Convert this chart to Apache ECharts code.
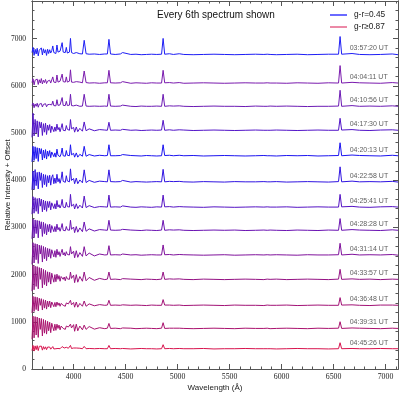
<!DOCTYPE html>
<html><head><meta charset="utf-8">
<script src="https://cdn.jsdelivr.net/npm/echarts@6/dist/echarts.min.js"></script>
<style>html,body{margin:0;padding:0;background:#fff}#c{width:400px;height:394px}</style>
</head><body><div id="c"></div>
<script>
// Wavelength grid (Å)
const wavelength = [3600,3610,3620,3630,3640,3650,3660,3670,3680,3690,3700,3710,3720,3730,3740,3750,3760,3770,3780,3790,
3800,3810,3820,3830,3840,3850,3860,3870,3880,3890,3900,3910,3920,3930,3940,3950,3960,3970,3980,3990,
4000,4010,4026,4040,4060,4085,4102,4120,4150,4200,4250,4300,4325,4340,4355,4400,4450,4471,4490,4550,
4600,4650,4700,4750,4800,4846,4861,4876,4922,4960,5016,5060,5150,5250,5350,5450,5550,5650,5750,5830,
5862,5876,5890,5950,6050,6150,6250,6350,6450,6548,6563,6578,6678,6750,6850,6950,7065,7120];

const times = ["03:57:20 UT","04:04:11 UT","04:10:56 UT","04:17:30 UT","04:20:13 UT","04:22:58 UT","04:25:41 UT",
"04:28:28 UT","04:31:14 UT","04:33:57 UT","04:36:48 UT","04:39:31 UT","04:45:26 UT"];
const offsets = [6667,6061,5568,5060,4520,3967,3432,2940,2417,1900,1350,860,430];
const colors = ['#1e1ef5','#7a1aae','#6c1ab4','#5214c8','#1c14f0','#3014e2','#5412c4','#6a12b2','#80129c','#941284','#a21276','#aa126e','#d8144e'];

// Relative flux of each spectrum (before offset)
const flux1 = [40,150,-20,110,10,130,-30,90,60,140,-10,120,30,100,-20,110,20,100,30,80,180,40,60,20,200,50,30,70,40,250,50,30,40,150,30,40,50,340,40,20,
20,15,40,10,15,10,300,15,5,10,0,10,10,320,10,0,10,40,5,0,5,-5,0,5,0,5,340,5,15,0,15,0,-5,0,5,0,-5,0,5,0,5,35,0,-5,0,5,-5,0,5,5,380,5,20,0,-5,0,10,-5];
const flux2 = [10,90,-40,60,20,85,-30,70,0,95,-20,60,10,75,-10,40,20,60,0,40,130,20,30,10,170,20,10,40,20,190,30,10,20,130,20,30,40,280,20,10,
15,10,30,5,20,5,255,10,0,5,-5,5,5,270,5,0,5,30,0,-5,5,0,-5,5,0,0,270,5,10,0,10,-5,0,5,0,-5,0,5,0,0,5,30,0,0,-5,5,0,-5,5,0,370,0,15,5,0,-5,10,0];
const flux3 = [20,70,-30,50,0,65,-20,45,30,60,-15,40,20,55,-10,35,10,40,0,30,110,15,30,10,140,20,15,30,10,185,20,10,15,105,15,20,25,255,15,10,
10,5,25,10,0,5,255,5,0,5,0,5,0,255,5,0,5,25,0,0,-5,5,0,0,5,0,255,0,10,5,10,0,-5,0,5,0,0,-5,5,0,0,25,5,0,5,0,-5,0,0,5,340,0,15,0,5,0,10,0];
const flux4 = [-150,360,-120,230,-60,200,-140,180,50,170,-110,140,-40,150,-90,110,0,120,-50,90,130,-30,70,-20,130,10,60,-30,50,140,0,40,-10,100,20,40,0,227,30,10,
60,-40,70,-30,40,-20,176,-10,30,-10,15,5,0,170,0,5,0,20,5,0,5,-5,0,5,0,5,212,0,10,0,10,5,-5,0,5,0,-5,0,5,0,0,25,0,5,0,-5,0,5,0,0,254,5,15,0,-5,5,10,0];
const flux5 = [-130,200,-100,190,-60,170,-120,160,40,150,-90,120,-50,130,-70,100,-10,110,-40,80,120,-20,60,-30,140,10,40,-20,40,163,0,30,-10,110,10,30,0,233,20,10,
50,-30,60,-30,30,-10,200,-10,25,-5,10,0,5,233,0,0,5,25,0,5,0,-5,5,0,-5,0,233,5,10,0,10,0,5,-5,0,5,0,-5,0,5,0,25,0,-5,5,0,5,-5,0,5,275,0,15,5,0,-5,10,0];
const flux6 = [-170,230,-160,260,-80,200,-150,210,30,190,-120,160,-60,150,-100,130,-20,140,-70,100,150,-40,80,-30,160,0,70,-30,60,212,10,50,-10,130,20,40,0,275,30,10,
70,-40,80,-40,40,-20,254,-15,30,-10,15,5,0,254,5,0,5,30,0,-5,5,0,-5,0,5,0,265,0,10,5,10,0,-5,5,0,-5,5,0,0,5,0,30,0,5,-5,0,5,0,-5,5,318,0,15,0,5,0,10,-5];
const flux7 = [-150,220,-130,200,-90,180,-140,190,20,170,-100,150,-60,130,-90,120,-10,120,-60,90,130,-30,70,-40,140,0,50,-20,40,163,0,40,-10,100,10,30,0,269,20,10,
60,-40,70,-30,40,-20,233,-10,30,-10,10,5,0,254,0,5,0,25,5,0,-5,5,0,-5,5,0,254,5,10,0,10,5,0,-5,5,0,-5,0,5,0,5,25,0,0,5,-5,0,5,0,0,269,5,15,0,-5,5,10,0];
const flux8 = [-180,240,-150,220,-70,210,-160,200,30,180,-130,170,-70,140,-100,120,-30,130,-50,100,120,-30,80,-30,130,10,60,-20,50,142,0,40,-10,80,10,30,0,212,20,10,
70,-50,80,-40,50,-30,176,-20,30,-15,15,5,0,212,5,0,5,20,0,5,0,-5,5,0,-5,5,212,0,10,5,10,0,-5,0,5,0,5,-5,0,5,0,20,5,0,-5,5,0,-5,5,0,248,0,15,5,0,-5,10,0];
const flux9 = [-200,260,-170,240,-100,230,-180,210,20,200,-150,180,-80,160,-120,140,-40,130,-70,110,100,-40,90,-50,120,0,70,-30,50,120,0,50,-20,70,10,40,0,176,20,10,
80,-60,90,-50,50,-30,176,-20,40,-20,20,0,5,197,0,5,0,20,5,0,5,-5,0,5,0,0,212,5,10,0,10,5,0,-5,0,5,-5,0,5,0,5,20,0,5,0,-5,5,0,0,5,248,0,15,0,5,0,10,-5];
const flux10 = [-250,300,-220,280,-150,270,-200,250,0,240,-180,210,-110,190,-140,160,-60,150,-100,130,100,-60,100,-50,110,0,80,-40,60,100,0,50,-30,60,10,40,0,155,20,10,
90,-70,100,-60,60,-40,155,-30,40,-20,20,-5,5,155,0,5,-5,15,0,5,0,-5,5,0,-5,5,155,0,10,5,10,0,-5,5,0,-5,0,5,0,-5,5,15,0,5,-5,0,5,0,-5,5,212,0,10,0,5,-5,5,0];
const flux11 = [-160,190,-130,180,-90,170,-120,150,0,140,-100,120,-60,110,-80,90,-30,90,-50,70,60,-30,60,-30,70,0,50,-20,40,70,0,30,-20,50,10,30,0,106,10,5,
60,-40,70,-40,40,-20,91,-20,30,-10,15,0,5,106,0,5,0,10,-5,0,5,0,-5,5,0,0,121,5,5,0,5,-5,0,5,0,-5,5,0,0,-5,5,10,0,0,5,-5,0,5,0,0,163,5,10,0,-5,5,5,0];
const flux12 = [-230,260,-200,250,-140,240,-190,220,-20,210,-160,190,-100,170,-120,150,-50,130,-90,110,80,-50,90,-40,90,0,70,-30,50,80,0,40,-20,50,10,30,0,91,10,5,
80,-60,90,-50,50,-30,70,-20,40,-15,15,-5,5,106,0,5,-5,10,0,5,-5,0,5,0,-5,5,121,0,5,5,5,0,-5,0,5,0,-5,5,0,0,5,10,-5,0,5,0,-5,5,0,5,142,0,10,5,0,-5,5,0];
const flux13 = [-40,70,-50,60,-20,65,-40,50,10,55,-30,45,-10,40,-20,35,0,35,-10,25,45,-5,30,0,40,5,20,0,15,45,5,15,0,30,5,10,5,70,5,5,
15,-5,15,-5,10,0,49,0,5,0,5,0,0,70,0,5,0,5,0,-5,0,5,0,0,-5,0,85,0,5,0,5,0,0,5,-5,0,0,5,0,0,0,8,0,-5,0,5,0,0,-5,0,127,0,5,0,0,5,0,0];
const fluxes = [flux1,flux2,flux3,flux4,flux5,flux6,flux7,flux8,flux9,flux10,flux11,flux12,flux13];

// Tick values
const xMajor = [4000,4500,5000,5500,6000,6500,7000];
const xMinor = [3700,3800,3900,4100,4200,4300,4400,4600,4700,4800,4900,5100,5200,5300,5400,5600,5700,5800,5900,6100,6200,6300,6400,6600,6700,6800,6900,7100];
const yMajor = [0,1000,2000,3000,4000,5000,6000,7000];
const yMinor = [200,400,600,800,1200,1400,1600,1800,2200,2400,2600,2800,3200,3400,3600,3800,4200,4400,4600,4800,5200,5400,5600,5800,6200,6400,6600,6800,7200,7400,7600];
const legendItems = ["g-r=0.45","g-r\u22650.87"];
const labelWavelength = 6655;

const AX = '#555';
const serif = "'Liberation Serif','DejaVu Serif',serif";
const sans = "'Liberation Sans',Arial,sans-serif";
const plain = v => String(v);
function xAx(pos, vals, len, labels){
  return {type:'value', min:3600, max:7120, position:pos, gridIndex:0,
    axisLine:{show:true, onZero:false, lineStyle:{color:AX,width:1}},
    axisTick:{show:true, inside:true, length:len, customValues:vals, lineStyle:{color:AX}},
    axisLabel:labels ? {show:true, customValues:vals, formatter:plain, fontFamily:serif, fontSize:7.8, color:'#222', margin:4} : {show:false},
    splitLine:{show:false}};
}
function yAx(pos, vals, len, labels){
  return {type:'value', min:0, max:7800, position:pos, gridIndex:0,
    axisLine:{show:true, onZero:false, lineStyle:{color:AX,width:1}},
    axisTick:{show:true, inside:true, length:len, customValues:vals, lineStyle:{color:AX}},
    axisLabel:labels ? {show:true, customValues:vals, formatter:plain, fontFamily:serif, fontSize:7.5, color:'#222', margin:6} : {show:false},
    splitLine:{show:false}};
}
const xAxes = [xAx('bottom', xMajor, 5, true), xAx('bottom', xMinor, 2.5, false), xAx('top', xMajor, 5, false), xAx('top', xMinor, 2.5, false)];
xAxes[0].name = 'Wavelength (\u00c5)';
xAxes[0].nameLocation = 'middle';
xAxes[0].nameGap = 15;
xAxes[0].nameMoveOverlap = false;
xAxes[0].nameTextStyle = {fontFamily:sans, fontSize:8, color:'#222'};
const yAxes = [yAx('left', yMajor, 5, true), yAx('left', yMinor, 2.5, false), yAx('right', yMajor, 5, false), yAx('right', yMinor, 2.5, false)];
yAxes[0].name = 'Relative Intensity + Offset';
yAxes[0].nameLocation = 'middle';
yAxes[0].nameGap = 20;
yAxes[0].nameMoveOverlap = false;
yAxes[0].nameTextStyle = {fontFamily:sans, fontSize:8, color:'#222'};

const series = fluxes.map((f, i) => ({
  type:'line', xAxisIndex:0, yAxisIndex:0, showSymbol:false, silent:true, animation:false,
  lineStyle:{color:colors[i], width:1}, z:2,
  data: wavelength.map((w, j) => [w, offsets[i] + f[j]])
}));
series.push({
  type:'scatter', xAxisIndex:0, yAxisIndex:0, symbolSize:0, silent:true, animation:false,
  data: times.map((t, i) => ({value:[labelWavelength, offsets[i]], name:t})),
  label:{show:true, position:'right', distance:0, offset:[0,-6], formatter:p => p.name,
    fontFamily:sans, fontSize:7, color:'#333'}
});

const chart = echarts.init(document.getElementById('c'));
chart.setOption({
  animation:false,
  backgroundColor:'#fff',
  title:{text:'Every 6th spectrum shown', left:157, top:10, padding:0,
    textStyle:{fontFamily:sans, fontSize:10, fontWeight:'normal', color:'#111'}},
  grid:{left:32, right:2, top:1, bottom:25, containLabel:false, outerBoundsMode:'none'},
  xAxis:xAxes, yAxis:yAxes, series:series,
  graphic:[
    {type:'line', shape:{x1:330, y1:15, x2:347, y2:15}, style:{stroke:'#6a6aff', lineWidth:2}},
    {type:'text', x:354, y:15, style:{text:legendItems[0], fontFamily:sans, fontSize:8.3, fill:'#222', verticalAlign:'middle'}},
    {type:'line', shape:{x1:330, y1:27, x2:347, y2:27}, style:{stroke:'#d8144e', lineWidth:1}},
    {type:'text', x:354, y:27, style:{text:legendItems[1], fontFamily:sans, fontSize:8.3, fill:'#222', verticalAlign:'middle'}}
  ]
});
</script></body></html>
